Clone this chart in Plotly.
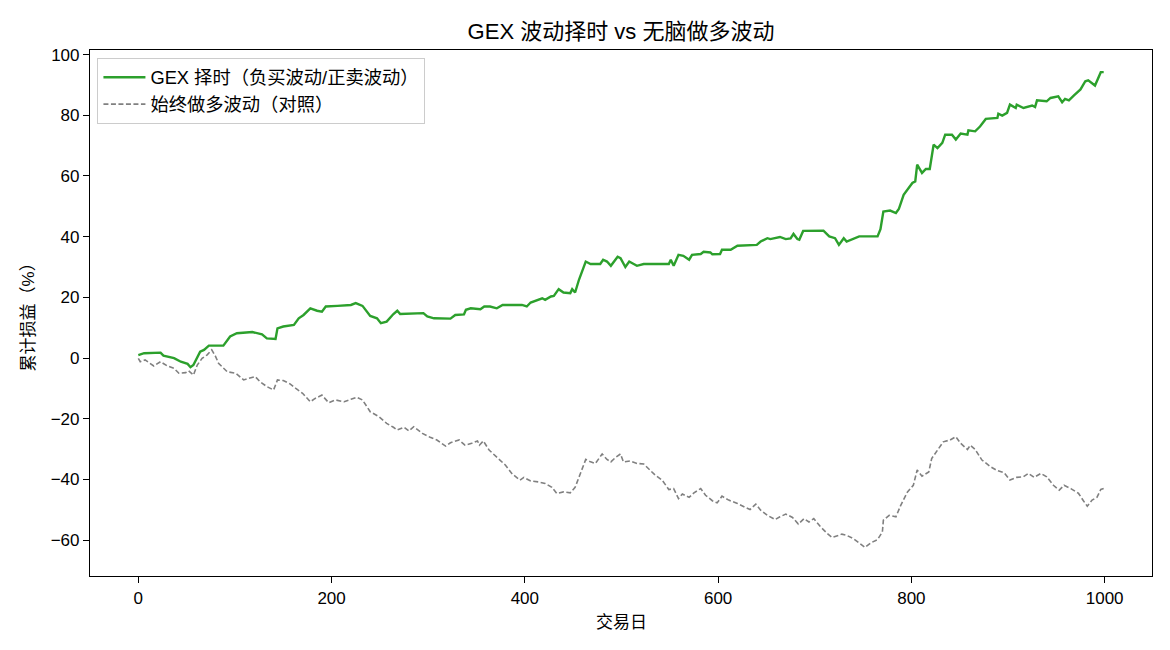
import plotly.graph_objects as go

# ---- data ----
gex_days = [0, 6, 23, 26, 37, 44, 51, 54, 57, 61, 64, 68, 73, 88, 95, 102, 114, 118, 128, 133, 142, 144, 150, 161, 166, 171, 178, 185, 190, 194, 206, 220, 225, 232, 240, 247, 251, 257, 264, 268, 271, 295, 299, 306, 323, 328, 337, 339, 344, 354, 358, 364, 371, 377, 397, 402, 406, 413, 418, 421, 427, 430, 435, 440, 447, 449, 452, 456, 459, 463, 468, 478, 481, 485, 489, 492, 496, 499, 504, 508, 516, 523, 549, 551, 554, 559, 564, 570, 573, 582, 585, 592, 594, 602, 604, 613, 620, 640, 644, 651, 654, 664, 670, 675, 678, 682, 684, 688, 709, 715, 721, 725, 730, 733, 746, 765, 768, 771, 778, 784, 787, 792, 797, 801, 804, 806, 811, 815, 819, 821, 823, 827, 832, 835, 842, 846, 851, 858, 859, 866, 871, 877, 889, 890, 894, 899, 902, 908, 909, 916, 925, 928, 930, 940, 944, 952, 956, 959, 963, 968, 975, 980, 983, 990, 994, 996, 999]
gex_pnl = [1.0, 1.6, 1.8, 0.8, 0.0, -1.2, -1.9, -3.0, -2.3, 0.0, 2.1, 2.7, 4.1, 4.1, 7.1, 8.2, 8.4, 8.6, 7.8, 6.5, 6.3, 9.8, 10.4, 10.9, 13.1, 14.2, 16.4, 15.6, 15.3, 17.0, 17.2, 17.5, 18.1, 17.2, 13.9, 13.1, 11.5, 12.0, 14.5, 15.6, 14.5, 14.8, 13.7, 13.1, 13.0, 14.2, 14.4, 15.9, 16.4, 16.1, 17.0, 17.0, 16.4, 17.5, 17.5, 17.0, 18.3, 19.2, 19.7, 19.2, 20.3, 20.5, 22.7, 21.6, 21.4, 22.7, 21.6, 25.8, 28.5, 31.8, 31.0, 31.0, 32.4, 31.8, 30.4, 31.8, 33.4, 32.9, 30.0, 31.8, 30.4, 31.0, 31.0, 32.4, 30.4, 34.0, 33.7, 32.4, 34.0, 34.3, 35.0, 34.8, 34.2, 34.3, 35.7, 35.7, 37.0, 37.3, 38.4, 39.5, 39.2, 39.9, 39.2, 39.4, 40.9, 39.2, 39.0, 41.9, 42.0, 40.1, 39.5, 37.3, 39.5, 38.4, 40.1, 40.1, 42.5, 48.3, 48.6, 47.8, 49.1, 53.8, 56.0, 57.7, 58.2, 63.7, 61.0, 62.3, 62.3, 67.0, 70.3, 69.2, 70.9, 73.6, 73.6, 72.0, 74.0, 73.6, 75.0, 74.7, 76.3, 78.8, 79.1, 80.5, 79.9, 80.8, 83.5, 82.4, 83.5, 82.4, 83.2, 82.7, 84.9, 84.6, 85.7, 86.2, 84.3, 85.4, 84.9, 86.5, 88.5, 91.2, 91.5, 89.8, 92.8, 94.2, 94.2]

long_days = [0, 2, 7, 16, 23, 30, 37, 42, 49, 52, 57, 61, 66, 71, 76, 80, 83, 92, 101, 109, 114, 121, 126, 133, 140, 144, 150, 157, 163, 170, 178, 183, 190, 197, 204, 213, 220, 226, 232, 240, 249, 257, 264, 268, 275, 280, 285, 294, 302, 309, 318, 323, 332, 338, 345, 351, 353, 357, 363, 371, 380, 387, 395, 399, 406, 414, 421, 428, 433, 440, 447, 452, 456, 459, 463, 468, 473, 480, 485, 489, 494, 499, 502, 509, 516, 523, 530, 535, 542, 549, 554, 559, 563, 570, 575, 582, 587, 594, 599, 604, 611, 620, 628, 633, 639, 644, 651, 659, 664, 670, 677, 683, 689, 694, 699, 706, 713, 718, 725, 728, 733, 740, 746, 752, 758, 765, 770, 771, 777, 784, 789, 796, 802, 806, 811, 818, 821, 827, 833, 840, 846, 851, 858, 861, 866, 873, 882, 889, 896, 902, 909, 916, 921, 927, 934, 940, 947, 953, 958, 965, 973, 978, 982, 987, 992, 996, 999]
long_pnl = [-0.1, -1.2, -0.6, -2.6, -1.2, -2.6, -3.4, -5.0, -4.8, -4.2, -5.6, -2.3, -0.1, 1.0, 2.7, 0.5, -1.7, -4.5, -5.0, -7.2, -6.7, -6.1, -7.8, -9.4, -10.5, -7.2, -7.4, -8.5, -10.0, -11.6, -14.4, -13.3, -12.2, -14.7, -13.8, -14.4, -13.6, -12.9, -13.8, -17.7, -19.3, -21.5, -22.8, -23.7, -22.8, -24.0, -22.6, -24.8, -26.1, -27.0, -29.0, -27.9, -27.0, -28.7, -28.1, -27.3, -28.7, -27.3, -30.3, -32.5, -35.3, -38.2, -40.2, -39.3, -40.5, -40.8, -41.3, -42.6, -44.6, -44.1, -44.4, -42.6, -39.1, -36.4, -33.4, -34.2, -34.7, -31.6, -33.4, -34.2, -32.7, -31.6, -34.2, -33.9, -34.7, -34.9, -36.9, -38.6, -40.2, -43.3, -43.0, -46.3, -44.8, -45.9, -44.4, -43.0, -45.2, -47.0, -47.7, -45.5, -46.8, -47.9, -49.2, -49.9, -48.1, -50.1, -51.8, -53.2, -52.3, -51.4, -52.5, -54.7, -52.9, -54.0, -52.9, -55.6, -57.8, -59.1, -58.4, -58.0, -58.4, -59.5, -60.9, -62.4, -60.9, -59.8, -57.3, -53.4, -51.8, -52.3, -48.5, -44.1, -41.9, -36.9, -38.9, -37.5, -33.1, -30.5, -27.6, -27.0, -25.9, -28.1, -30.1, -28.7, -30.1, -33.6, -35.8, -37.1, -37.8, -40.2, -39.3, -39.1, -38.0, -39.3, -38.0, -39.1, -41.9, -43.5, -41.9, -43.0, -44.6, -47.0, -48.8, -46.8, -45.9, -43.3, -43.0]

x_ticks = [0, 200, 400, 600, 800, 1000]
y_ticks = [-60, -40, -20, 0, 20, 40, 60, 80, 100]
y_tick_text = ["\u221260", "\u221240", "\u221220", "0", "20", "40", "60", "80", "100"]

FONT = "Liberation Sans, Noto Sans CJK SC, sans-serif"

fig = go.Figure()
fig.add_trace(go.Scatter(x=gex_days, y=gex_pnl, mode="lines",
                         name="GEX 择时（负买波动/正卖波动）",
                         line=dict(color="#2ca02c", width=2.4)))
fig.add_trace(go.Scatter(x=long_days, y=long_pnl, mode="lines",
                         name="始终做多波动（对照）",
                         line=dict(color="#808080", width=1.6, dash="5px,2.5px")))

axis_common = dict(showgrid=False, zeroline=False, showline=True, linecolor="black",
                   linewidth=1.2, mirror=True, ticks="outside", ticklen=6, tickwidth=1.2,
                   tickcolor="black", tickfont=dict(family=FONT, size=17, color="black"))

fig.update_layout(
    width=1170, height=650,
    margin=dict(l=90, r=18, t=50, b=74),
    paper_bgcolor="white", plot_bgcolor="white",
    font=dict(family=FONT, size=17, color="black"),
    title=dict(text="GEX 波动择时 vs 无脑做多波动", x=0.5, xref="paper",
               y=1 - 31 / 650, yref="container", xanchor="center", yanchor="middle",
               font=dict(family=FONT, size=22, color="black")),
    xaxis=dict(range=[-50, 1049], tickvals=x_ticks, **axis_common),
    yaxis=dict(range=[-71.8, 101.5], tickvals=y_ticks, ticktext=y_tick_text, **axis_common),
    legend=dict(x=0.007, y=0.985, xanchor="left", yanchor="top",
                bgcolor="rgba(255,255,255,0.8)", bordercolor="#cccccc", borderwidth=1,
                font=dict(family=FONT, size=18.3, color="black"), tracegroupgap=0,
                itemwidth=42),
    showlegend=True,
    annotations=[
        dict(text="交易日", xref="paper", yref="paper", x=0.5, y=-0.088,
             xanchor="center", yanchor="middle", showarrow=False,
             font=dict(family=FONT, size=17, color="black")),
        dict(text="累计损益（%）", xref="paper", yref="paper", x=-0.058, y=0.5,
             xanchor="center", yanchor="middle", textangle=-90, showarrow=False,
             font=dict(family=FONT, size=17, color="black")),
    ],
)

fig.write_html("out.html")
